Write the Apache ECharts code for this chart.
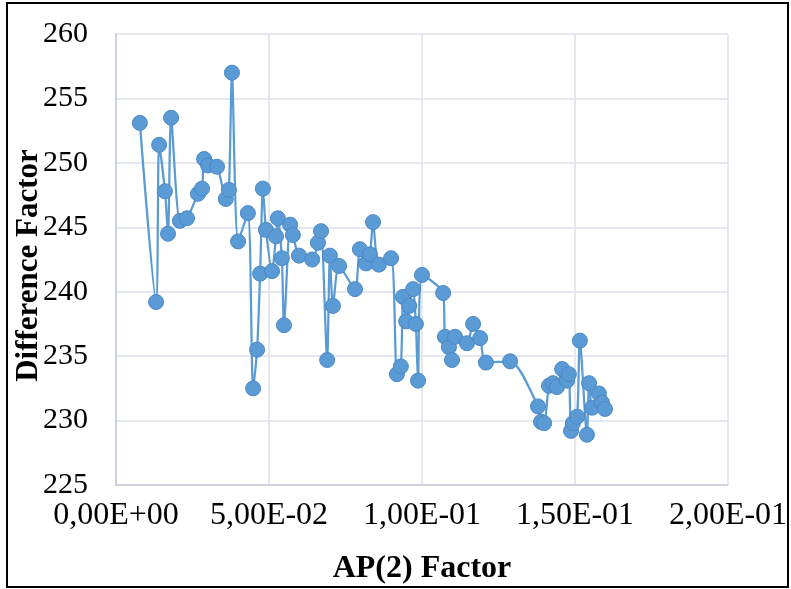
<!DOCTYPE html>
<html>
<head>
<meta charset="utf-8">
<script src="https://cdn.jsdelivr.net/npm/echarts@6/dist/echarts.min.js"></script>
<style>
  html, body { margin: 0; padding: 0; background: #fff; }
  #main { width: 791px; height: 589px; }
</style>
</head>
<body>
<div id="main"></div>
<script>
var chart = echarts.init(document.getElementById('main'));

// AP(2) factor (x) and difference factor (y), in plotted order
var apFactor = [
  0.0078, 0.0131, 0.0141, 0.0160, 0.0170, 0.0180, 0.0209, 0.0232, 0.0268, 0.0281,
  0.0288, 0.0301, 0.0330, 0.0359, 0.0369, 0.0379, 0.0399, 0.0431, 0.0448, 0.0461,
  0.0471, 0.0480, 0.0490, 0.0510, 0.0523, 0.0529, 0.0542, 0.0549, 0.0569, 0.0578,
  0.0598, 0.0641, 0.0660, 0.0670, 0.0690, 0.0699, 0.0709, 0.0729, 0.0781, 0.0797,
  0.0817, 0.0830, 0.0840, 0.0859, 0.0899, 0.0918, 0.0931, 0.0938, 0.0948, 0.0958,
  0.0971, 0.0980, 0.0987, 0.1000, 0.1069, 0.1075, 0.1088, 0.1098, 0.1108, 0.1147,
  0.1167, 0.1190, 0.1209, 0.1288, 0.1379, 0.1389, 0.1399, 0.1415, 0.1428, 0.1441,
  0.1458, 0.1474, 0.1480, 0.1487, 0.1493, 0.1507, 0.1516, 0.1539, 0.1546, 0.1556,
  0.1578, 0.1588, 0.1598
];
var diffFactor = [
  253.1, 239.2, 251.4, 247.8, 244.5, 253.5, 245.5, 245.7, 247.6, 248.0,
  250.3, 249.8, 249.7, 247.2, 247.9, 257.0, 243.9, 246.1, 232.5, 235.5,
  241.4, 248.0, 244.8, 241.6, 244.3, 245.7, 242.6, 237.4, 245.2, 244.4,
  242.8, 242.5, 243.8, 244.7, 234.7, 242.8, 238.9, 242.0, 240.2, 243.3,
  242.2, 242.9, 245.4, 242.1, 242.6, 233.6, 234.2, 239.6, 237.7, 238.9,
  240.2, 237.5, 233.1, 241.3, 239.9, 236.5, 235.7, 234.7, 236.5, 236.0,
  237.5, 236.4, 234.5, 234.6, 231.1, 229.9, 229.8, 232.7, 232.9, 232.6,
  234.0, 233.1, 233.6, 229.2, 229.8, 230.3, 236.2, 228.9, 232.9, 231.0,
  232.1, 231.4, 230.9
];

var points = apFactor.map(function (x, i) { return [x, diffFactor[i]]; });

// 5.00e-2 -> 5,00E-02
function sciComma(v) {
  var s = v.toExponential(2);
  var parts = s.split('e');
  var exp = parseInt(parts[1], 10);
  var sign = exp < 0 ? '-' : '+';
  var e = Math.abs(exp);
  return parts[0].replace('.', ',') + 'E' + sign + (e < 10 ? '0' + e : e);
}

var serif = '"Liberation Serif", "Times New Roman", serif';
var gridColor = '#dde1e8';

var option = {
  animation: false,
  backgroundColor: '#fff',
  graphic: [{
    type: 'rect',
    shape: { x: 7, y: 3, width: 781, height: 584 },
    style: { fill: 'none', stroke: '#000', lineWidth: 2 },
    silent: true
  }],
  grid: { left: 116, right: 63, top: 34, bottom: 104, outerBoundsMode: 'none' },
  xAxis: {
    type: 'value',
    min: 0,
    max: 0.2,
    interval: 0.05,
    name: 'AP(2) Factor',
    nameLocation: 'middle',
    nameGap: 68,
    nameMoveOverlap: false,
    nameTextStyle: { fontFamily: serif, fontSize: 32, fontWeight: 'bold', color: '#000' },
    axisLine: { show: true, lineStyle: { color: '#c3cbd8', width: 1.5 } },
    axisTick: { show: false },
    axisLabel: {
      margin: 15,
      fontFamily: serif,
      fontSize: 32,
      color: '#000',
      formatter: sciComma
    },
    splitLine: { show: true, lineStyle: { color: gridColor, width: 1.5 } }
  },
  yAxis: {
    type: 'value',
    min: 225,
    max: 260,
    interval: 5,
    name: 'Difference Factor',
    nameLocation: 'middle',
    nameRotate: 90,
    nameGap: 72,
    nameMoveOverlap: false,
    nameTextStyle: {
      fontFamily: serif, fontSize: 31, fontWeight: 'bold', color: '#000',
      padding: [0, 12, 0, 0]
    },
    axisLine: { show: true, lineStyle: { color: '#c3cbd8', width: 1.5 } },
    axisTick: { show: false },
    axisLabel: {
      margin: 28,
      fontFamily: serif,
      fontSize: 30,
      color: '#000'
    },
    splitLine: { show: true, lineStyle: { color: gridColor, width: 1.5 } }
  },
  series: [{
    type: 'line',
    data: points,
    smooth: 0.25,
    symbol: 'circle',
    symbolSize: 15,
    lineStyle: { color: '#5b9bd5', width: 2.25 },
    itemStyle: { color: '#5b9bd5', borderColor: '#4a88c6', borderWidth: 1 }
  }]
};

chart.setOption(option);
window.onresize = chart.resize;
</script>
</body>
</html>
